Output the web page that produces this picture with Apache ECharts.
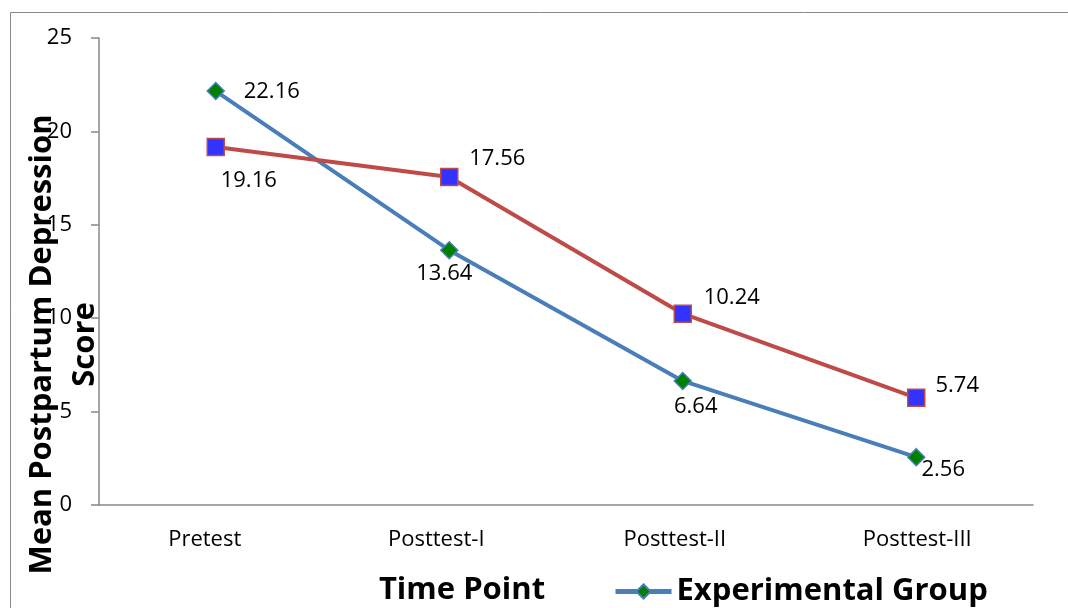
<!DOCTYPE html>
<html><head><meta charset="utf-8">
<script src="https://cdn.jsdelivr.net/npm/echarts@6/dist/echarts.min.js"></script>
<style>html,body{margin:0;padding:0;background:#fff}#c{width:1068px;height:608px}</style>
</head><body><div id="c"></div>
<script>
const categories = ['Pretest', 'Posttest-I', 'Posttest-II', 'Posttest-III'];
const experimental = [22.16, 13.64, 6.64, 2.56];
const control = [19.16, 17.56, 10.24, 5.74];
const yTicks = [0, 5, 10, 15, 20, 25];
const expLabelOffsets = [[56, 1], [-5, 24], [13, 26], [27, 13]];
const ctlLabelOffsets = [[33, 34], [48, -18], [49, -16], [41, -12]];
const catLabelPadding = [[0, 22, 0, 0], [0, 26, 0, 0], [0, 16, 0, 0], [0, 0, 0, 2]];

const FONT = '"Open Sans", "Liberation Sans", sans-serif';
const chart = echarts.init(document.getElementById('c'));
function mk(vals, offs) {
  return vals.map((v, i) => ({
    value: v,
    label: { show: true, position: 'inside', offset: offs[i], formatter: '{c}',
      color: '#000', fontSize: 22, fontFamily: FONT }
  }));
}
chart.setOption({
  animation: false,
  backgroundColor: '#fff',
  graphic: [{ type: 'rect', shape: { x: 10.5, y: 12.5, width: 1200, height: 800 },
    style: { fill: 'none', stroke: '#888', lineWidth: 1 }, silent: true, z: -1 }],
  grid: { left: 99, right: 35, top: 38, bottom: 103, containLabel: false, outerBoundsMode: 'none' },
  legend: {
    left: 608, top: 571, width: 420, itemWidth: 56, itemHeight: 18, itemGap: 40,
    data: ['Experimental Group', 'Control Group'],
    lineStyle: { width: 5 },
    textStyle: { fontSize: 31, fontWeight: 'bold', color: '#000', fontFamily: FONT }
  },
  xAxis: {
    type: 'category',
    data: categories.map((c, i) => ({ value: c, textStyle: { padding: catLabelPadding[i] } })),
    boundaryGap: true,
    name: 'Time Point', nameLocation: 'middle', nameGap: 70, nameMoveOverlap: false,
    nameTextStyle: { fontSize: 31, fontWeight: 'bold', color: '#000', fontFamily: FONT, padding: [0, 208, 0, 0] },
    axisLine: { lineStyle: { color: '#888', width: 1.5 } },
    axisTick: { show: false },
    axisLabel: { color: '#000', fontSize: 22, fontFamily: FONT, margin: 24 }
  },
  yAxis: {
    type: 'value', min: 0, max: 25, interval: 5,
    name: 'Mean Postpartum Depression\nScore', nameLocation: 'middle', nameGap: -8, nameRotate: 90,
    nameMoveOverlap: false,
    nameTextStyle: { fontSize: 31, fontWeight: 'bold', color: '#000', fontFamily: FONT, lineHeight: 43,
      padding: [0, 146, 0, 0] },
    axisLine: { show: true, lineStyle: { color: '#888', width: 1.5 } },
    axisTick: { show: true, length: 8, lineStyle: { color: '#888', width: 1.5 } },
    splitLine: { show: false },
    axisLabel: { color: '#000', fontSize: 22, fontFamily: FONT, margin: 27,
      formatter: v => yTicks.includes(v) ? String(v) : '' }
  },
  series: [
    { name: 'Experimental Group', type: 'line', data: mk(experimental, expLabelOffsets),
      symbol: 'diamond', symbolSize: 17, showAllSymbol: true,
      lineStyle: { color: '#4A7EBB', width: 4 },
      itemStyle: { color: '#008000', borderColor: '#4A7EBB', borderWidth: 1.5 } },
    { name: 'Control Group', type: 'line', data: mk(control, ctlLabelOffsets),
      symbol: 'rect', symbolSize: 17, showAllSymbol: true,
      lineStyle: { color: '#BE4B48', width: 4 },
      itemStyle: { color: '#3333FF', borderColor: '#BE4B48', borderWidth: 1.5 } }
  ]
});
</script></body></html>
